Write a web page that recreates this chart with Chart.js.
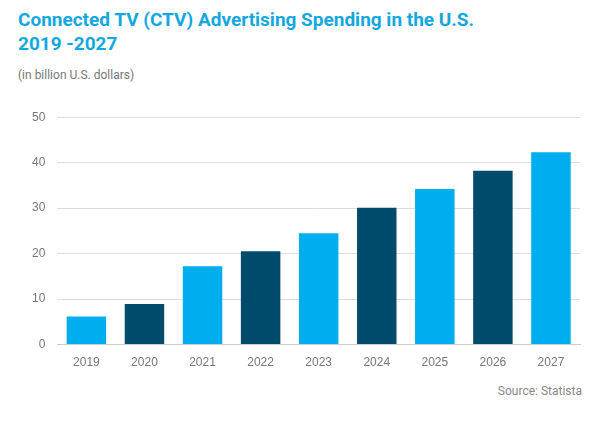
<!DOCTYPE html>
<html><head><meta charset="utf-8">
<script src="https://cdn.jsdelivr.net/npm/chart.js@4"></script>
<style>
body{margin:0;background:#fff;font-family:Roboto,"Noto Sans",sans-serif;}
#wrap{position:relative;width:600px;height:423px;}
h1{position:absolute;left:18px;top:8px;margin:0;font-size:19px;line-height:24px;font-weight:700;color:#14a7df;}
#sub{position:absolute;left:18px;top:68px;font-size:12px;color:#777;}
#src{position:absolute;right:18px;top:384px;font-size:12px;color:#888;}
#c{position:absolute;left:20px;top:98px;}
</style></head><body>
<div id="wrap">
<h1>Connected TV (CTV) Advertising Spending in the U.S.<br>2019 -2027</h1>
<div id="sub">(in billion U.S. dollars)</div>
<canvas id="c" width="565" height="275"></canvas>
<div id="src">Source: Statista</div>
</div>
<script>
const categories=["2019","2020","2021","2022","2023","2024","2025","2026","2027"];
const values=[6.2,8.9,17.2,20.5,24.5,30.1,34.2,38.2,42.3];
const colors=["#00adee","#004b6b","#00adee","#004b6b","#00adee","#004b6b","#00adee","#004b6b","#00adee"];
new Chart(document.getElementById('c'),{type:'bar',
data:{labels:categories,datasets:[{data:values,backgroundColor:colors,barPercentage:0.68,categoryPercentage:1}]},
options:{responsive:false,animation:false,plugins:{legend:{display:false},tooltip:{enabled:false}},
layout:{padding:{right:5}},
scales:{x:{grid:{display:false},border:{color:'#ccc'},ticks:{color:'#777',font:{size:12}}},
y:{min:0,max:50,ticks:{stepSize:10,color:'#777',font:{size:12},padding:12},grid:{color:'#ddd',drawTicks:false},border:{display:false}}}}});
</script></body></html>
